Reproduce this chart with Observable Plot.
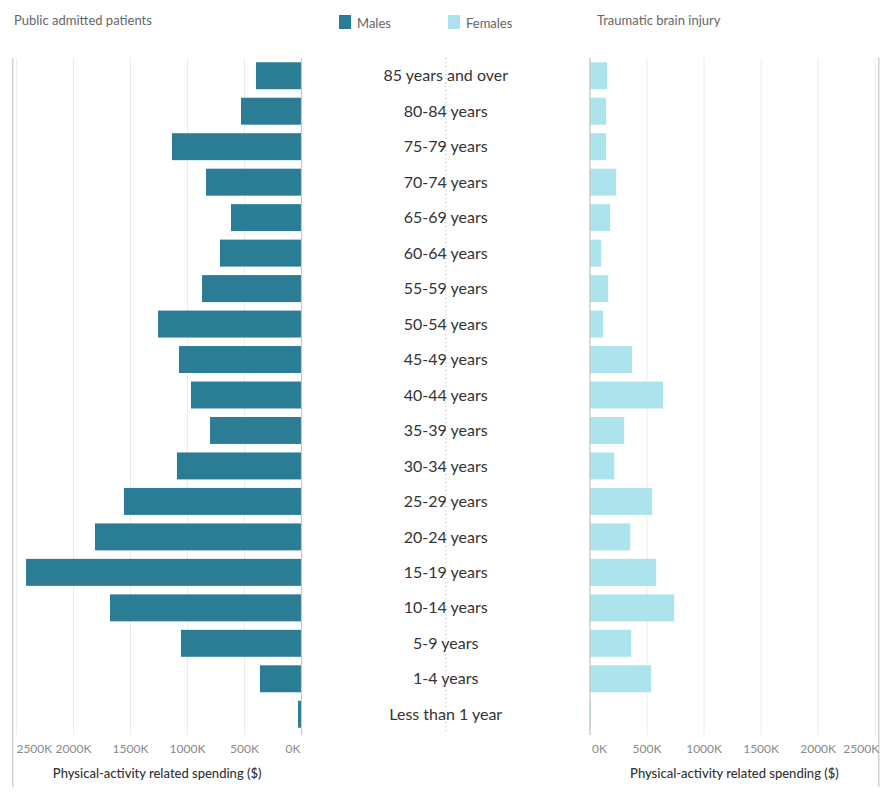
<!DOCTYPE html>
<html>
<head>
<meta charset="utf-8">
<script src="https://cdn.jsdelivr.net/npm/d3@7"></script>
<script src="https://cdn.jsdelivr.net/npm/@observablehq/plot@0.6"></script>
<style>
  body { margin: 0; background: #fff; font-family: Lato, "Open Sans", sans-serif; }
  #wrap { position: relative; width: 891px; height: 800px; overflow: hidden; }
  .hdr { position: absolute; font-size: 13px; color: #666; line-height: 16px; white-space: nowrap; }
  .sw { position: absolute; top: 15px; width: 12px; height: 14px; }
  #chart { position: absolute; left: 0; top: 50px; width: 891px; height: 750px; }
</style>
</head>
<body>
<div id="wrap">
  <div class="hdr" style="left:14px; top:12px;">Public admitted patients</div>
  <div class="sw" style="left:339px; background:#2b7c95;"></div>
  <div class="hdr" style="left:357px; top:15px;">Males</div>
  <div class="sw" style="left:448px; background:#ade3ed;"></div>
  <div class="hdr" style="left:466px; top:15px;">Females</div>
  <div class="hdr" style="left:597px; top:12px;">Traumatic brain injury</div>
  <div id="chart"></div>
</div>
<script>
// Age groups, top to bottom
const ageGroups = [
  "85 years and over", "80-84 years", "75-79 years", "70-74 years", "65-69 years",
  "60-64 years", "55-59 years", "50-54 years", "45-49 years", "40-44 years",
  "35-39 years", "30-34 years", "25-29 years", "20-24 years", "15-19 years",
  "10-14 years", "5-9 years", "1-4 years", "Less than 1 year"
];

// Physical-activity related spending, thousands of dollars
const maleSpendingK = [
  395, 526, 1132, 833, 614, 711, 868, 1254, 1070, 965,
  798, 1088, 1553, 1807, 2412, 1675, 1053, 360, 26
];
const femaleSpendingK = [
  155, 146, 146, 234, 181, 103, 164, 120, 374, 646,
  304, 217, 550, 357, 585, 743, 366, 541, 13
];

const tickValues = [0, 500, 1000, 1500, 2000, 2500];
const xMax = 2532;
const axisTitle = "Physical-activity related spending ($)";

const maleColor = "#2b7c95";
const femaleColor = "#ade3ed";
const gridColor = "#ececec";
const lineColor = "#c8c8c8";
const font = "Lato, 'Open Sans', sans-serif";

const rows = ageGroups.map((age, i) => ({age, male: maleSpendingK[i], female: femaleSpendingK[i]}));

const W = 891, H = 750;
const yScale = {domain: ageGroups, range: [8, 682], paddingInner: 0.24, paddingOuter: 0.12, round: false, axis: null};
const svgStyle = {background: "transparent", position: "absolute", left: "0px", top: "0px", overflow: "visible", fontFamily: font};
const fmt = d => d + "K";

// one pane of bars with its own value axis
function pane({key, color, marginLeft, marginRight, reverse}) {
  const inner = tickValues.filter(d => d !== 0 && d !== 2500);
  const nearEnd = reverse ? "end" : "start";
  const farEnd = reverse ? "start" : "end";
  const tickText = {frameAnchor: "bottom", dy: 17, fill: "#8a8a8a", fontSize: 12};
  return Plot.plot({
    width: W, height: H,
    marginTop: 8, marginBottom: 65, marginLeft, marginRight,
    style: svgStyle,
    x: {domain: [0, xMax], reverse, axis: null},
    y: yScale,
    marks: [
      Plot.ruleX(tickValues, {stroke: gridColor, strokeWidth: 1}),
      Plot.barX(rows, {x: key, y: "age", fill: color}),
      Plot.ruleX([0], {stroke: lineColor, strokeWidth: 1.2}),
      Plot.ruleX([xMax], {stroke: lineColor, strokeWidth: 1.2, insetBottom: -52}),
      Plot.text(inner, {x: d => d, text: fmt, ...tickText}),
      Plot.text([0], {x: d => d, text: fmt, ...tickText, textAnchor: nearEnd, dx: reverse ? -1 : 2}),
      Plot.text([2500], {x: d => d, text: fmt, ...tickText, textAnchor: farEnd, dx: reverse ? 0 : 4}),
      Plot.text([axisTitle], {frameAnchor: "bottom", dy: 42, fill: "#333", fontSize: 13, fontWeight: 500})
    ]
  });
}

const males = pane({key: "male", color: maleColor, marginLeft: 12.3, marginRight: W - 301, reverse: true});
const females = pane({key: "female", color: femaleColor, marginLeft: 589.5, marginRight: W - 878.3, reverse: false});

// centre column: age labels around a dotted divider
const labels = Plot.plot({
  width: W, height: H,
  marginTop: 8, marginBottom: 67, marginLeft: 301, marginRight: W - 589.5,
  style: svgStyle,
  x: {domain: [-1, 1], axis: null},
  y: yScale,
  marks: [
    Plot.ruleX([0], {stroke: "#bbb", strokeDasharray: "1.2,2.8", strokeWidth: 1}),
    Plot.text(rows, {x: () => 0, y: "age", text: "age", fill: "#333", fontSize: 16})
  ]
});

const chart = document.getElementById("chart");
chart.append(males, females, labels);
</script>
</body>
</html>
